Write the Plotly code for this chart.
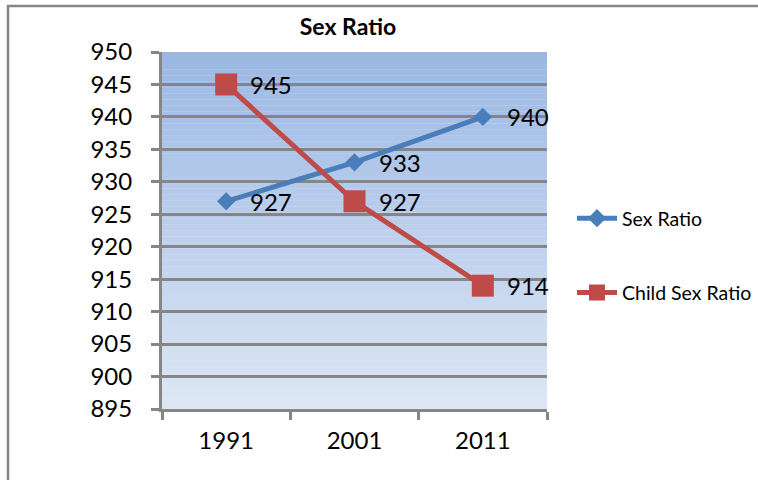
import plotly.graph_objects as go

years = ["1991", "2001", "2011"]
sex_ratio = [927, 933, 940]
child_sex_ratio = [945, 927, 914]
y_ticks = [895, 900, 905, 910, 915, 920, 925, 930, 935, 940, 945, 950]

FONT = "Lato"
L, R, T, B = 162, 211, 52, 71
W, H = 758, 480
pw = W - L - R
ph = H - T - B

BLUE = "#4A7EBB"
RED = "#BE4B48"

fig = go.Figure()
fig.add_trace(go.Scatter(
    x=years, y=sex_ratio, name="Sex Ratio", mode="lines+markers",
    line=dict(color=BLUE, width=5),
    marker=dict(symbol="diamond", size=14, color=BLUE),
    legendgroup="a", cliponaxis=False,
))
fig.add_trace(go.Scatter(
    x=years, y=child_sex_ratio, name="Child Sex Ratio", mode="lines+markers",
    line=dict(color=RED, width=5),
    marker=dict(symbol="square", size=22, color=RED),
    legendgroup="b", cliponaxis=False,
))

annotations = []
for series in (sex_ratio, child_sex_ratio):
    for idx, yv in enumerate(series):
        annotations.append(dict(x=idx, y=yv, xref="x", yref="y", text=str(yv), showarrow=False,
                                xanchor="left", yanchor="middle", xshift=22,
                                font=dict(family=FONT, size=24, color="#000000")))

# gradient background
shapes = []
n = 60
top = (0x9B, 0xB8, 0xE4)
bot = (0xDD, 0xE7, 0xF4)
for i in range(n):
    f = i / (n - 1)
    c = tuple(round(top[k] + (bot[k] - top[k]) * f) for k in range(3))
    shapes.append(dict(type="rect", xref="paper", yref="paper",
                       x0=0, x1=1, y0=1 - (i + 1) / n, y1=1 - i / n,
                       fillcolor="rgb(%d,%d,%d)" % c, line=dict(width=0), layer="below"))
# outer chart border
shapes.append(dict(type="rect", xref="paper", yref="paper",
                   x0=(8 - L) / pw, x1=(W + 20 - L) / pw,
                   y0=(H - (H + 20) - B) / ph, y1=(H - 6 - B) / ph,
                   line=dict(color="#868686", width=2.5), fillcolor="rgba(0,0,0,0)", layer="above"))

fig.update_layout(
    width=W, height=H,
    margin=dict(l=L, r=R, t=T, b=B, autoexpand=False),
    paper_bgcolor="white", plot_bgcolor="#DDE7F4",
    font=dict(family=FONT, color="#000000"),
    title=dict(text="<b>Sex Ratio</b>", x=348 / W, xanchor="center", y=1 - 27 / H, yanchor="middle",
               font=dict(family=FONT, size=23, color="#000000")),
    xaxis=dict(type="category", range=[-0.5, 2.5], showgrid=False, tickson="boundaries",
               ticks="outside", ticklen=8, tickwidth=3, tickcolor="#868686",
               showline=True, linecolor="#868686", linewidth=3,
               tickfont=dict(family=FONT, size=24), ticklabelstandoff=8),
    yaxis=dict(range=[895, 950], tickvals=y_ticks, ticks="outside", ticklen=8, tickwidth=3,
               tickcolor="#868686", showline=True, linecolor="#868686", linewidth=3,
               showgrid=True, gridcolor="#868686", gridwidth=3, zeroline=False,
               tickfont=dict(family=FONT, size=24), ticklabelstandoff=14),
    legend=dict(x=(572 - L) / pw, xanchor="left", y=1 - (199 - T) / ph, yanchor="top",
                font=dict(family=FONT, size=19.5), tracegroupgap=46, traceorder="grouped",
                bgcolor="rgba(0,0,0,0)", itemwidth=40),
    annotations=annotations,
    shapes=shapes,
)

fig.write_html("out.html", config={"displayModeBar": False},
               post_script="document.body.style.margin='0';document.body.style.padding='0';")
